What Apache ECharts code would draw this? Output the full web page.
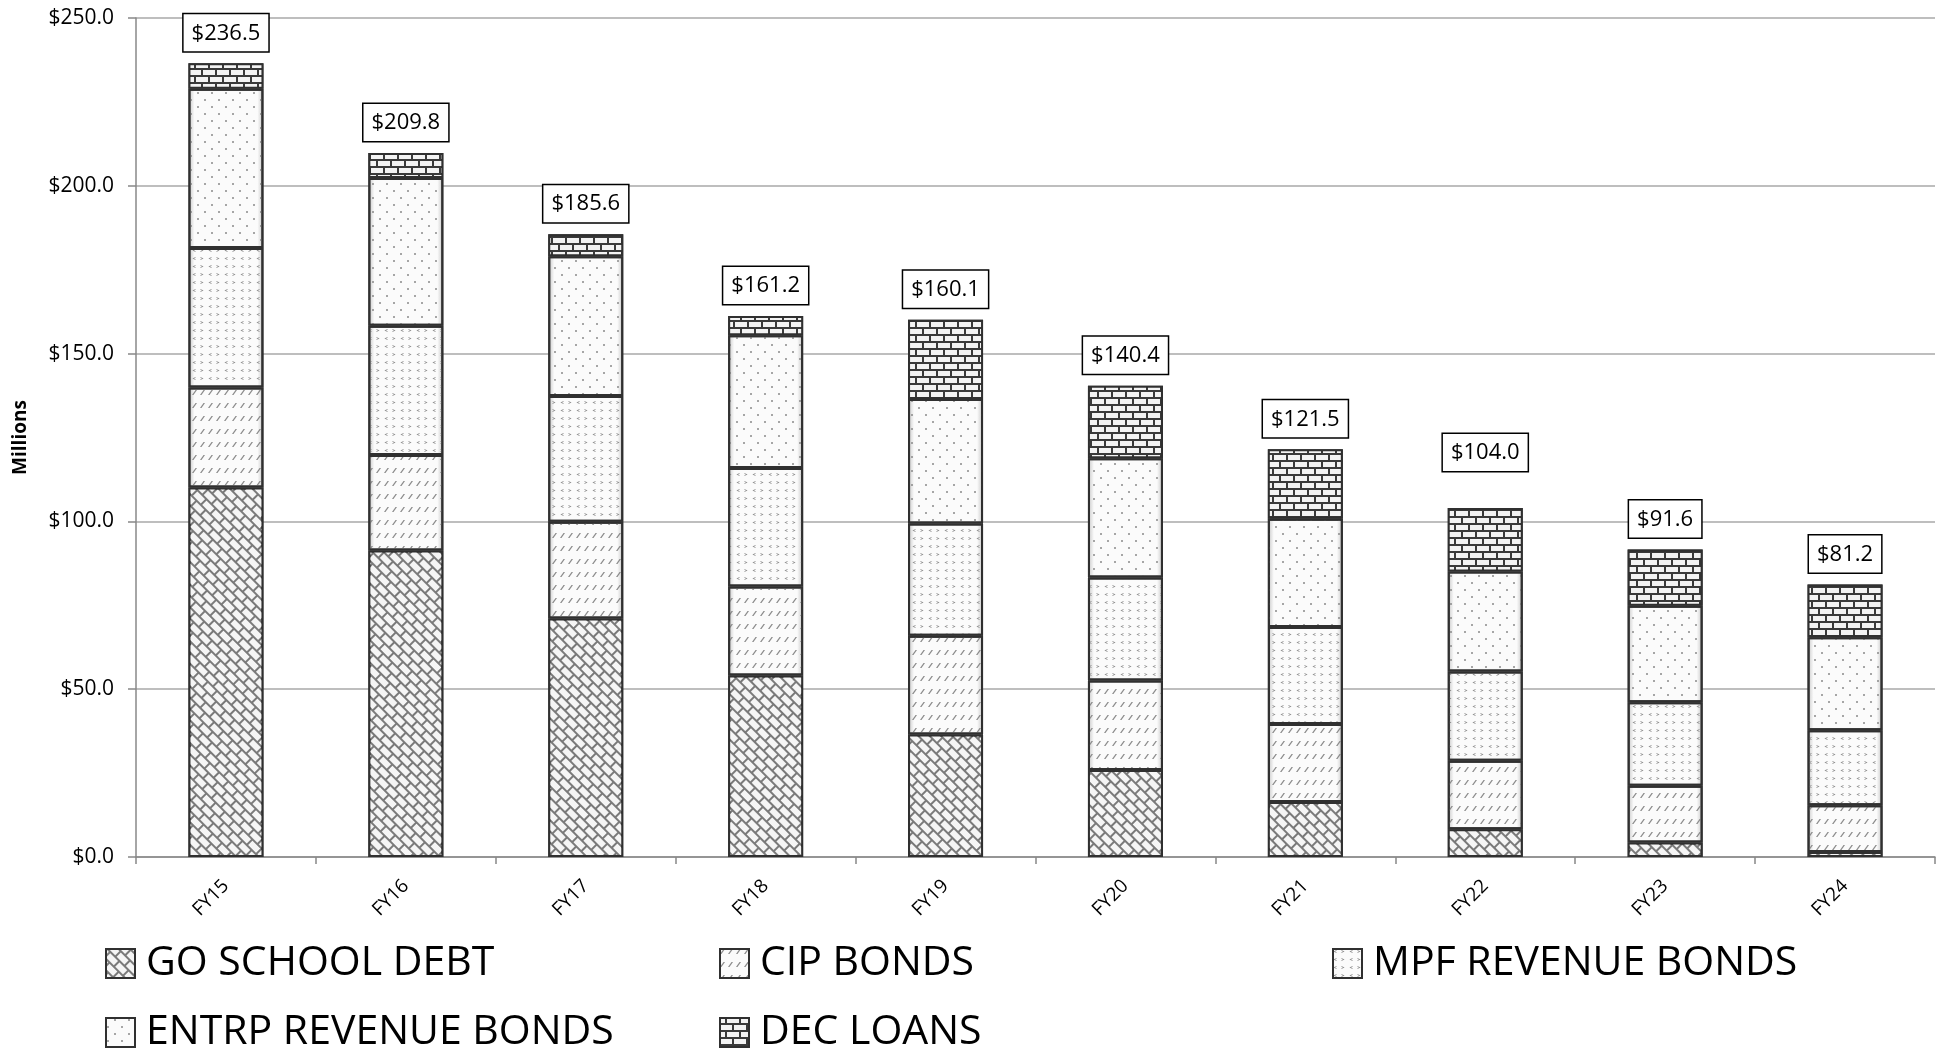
<!DOCTYPE html>
<html>
<head>
<meta charset="utf-8">
<script src="https://cdn.jsdelivr.net/npm/echarts@6/dist/echarts.min.js"></script>
<style>
html,body{margin:0;padding:0;background:#fff;}
#chart{width:1942px;height:1055px;}
</style>
</head>
<body>
<div id="chart"></div>
<script>
// ---- data (millions of dollars) ----
const categories = ['FY15','FY16','FY17','FY18','FY19','FY20','FY21','FY22','FY23','FY24'];
const goSchoolDebt      = [110.1, 91.3, 71.1, 54.1, 36.5, 25.9, 16.4,  8.3,  4.3,  1.5];
const cipBonds          = [ 29.8, 28.5, 28.8, 26.5, 29.4, 26.7, 23.2, 20.4, 16.9, 13.9];
const mpfRevenueBonds   = [ 41.6, 38.5, 37.5, 35.3, 33.5, 30.7, 28.9, 26.6, 24.9, 22.4];
const entrpRevenueBonds = [ 47.4, 44.0, 41.6, 39.6, 37.1, 35.5, 32.3, 29.8, 28.8, 27.7];
const decLoans          = [  7.6,  7.5,  6.6,  5.7, 23.6, 21.6, 20.7, 18.9, 16.7, 15.7];
const totals            = [236.5, 209.8, 185.6, 161.2, 160.1, 140.4, 121.5, 104.0, 91.6, 81.2];
const seriesNames = ['GO SCHOOL DEBT','CIP BONDS','MPF REVENUE BONDS','ENTRP REVENUE BONDS','DEC LOANS'];

const FONT = "'Open Sans', 'Noto Sans', sans-serif";

function bevel(edge) {
  return new echarts.graphic.LinearGradient(0, 0, 1, 0, [
    {offset: 0, color: edge},
    {offset: 0.08, color: '#fbfbfb'},
    {offset: 0.92, color: '#fbfbfb'},
    {offset: 1, color: edge}
  ]);
}

const styles = [
  { color: '#7a7a7a',
    decal: {symbol: 'rect', symbolSize: 1, color: '#f5f5f5',
            dashArrayX: [[11, 2], [4, 2, 7, 0]], dashArrayY: [5.5, 1.5], rotation: Math.PI / 4} },
  { color: bevel('#c4c4c4'),
    decal: {symbol: 'path://M0,10 L3,10 L10,0 L7,0 Z', symbolSize: 1, color: '#8c8c8c',
            dashArrayX: [5, 3], dashArrayY: [5, 8]} },
  { color: bevel('#c4c4c4'),
    decal: {symbol: ['path://M10,0 L0,5 L10,10 L10,7 L5,5 L10,3 Z', 'path://M0,0 L10,5 L0,10 L0,7 L5,5 L0,3 Z'],
            symbolSize: 0.8, color: '#8c8c8c', dashArrayX: [[4, 4]], dashArrayY: [5, 3]} },
  { color: bevel('#c4c4c4'),
    decal: {symbol: 'circle', symbolSize: 0.5, color: '#8a8a8a',
            dashArrayX: [[4, 10], [0, 7, 4, 3]], dashArrayY: [4, 3]} },
  { color: '#3a3a3a',
    decal: {symbol: 'rect', symbolSize: 1, color: '#f3f3f3',
            dashArrayX: [[12, 2], [5, 2, 7, 0]], dashArrayY: [5, 2]} }
];

const valueArrays = [goSchoolDebt, cipBonds, mpfRevenueBonds, entrpRevenueBonds, decLoans];
// label distance override (FY22 label sits higher in the original)
const labelDistanceOverride = {7: 37};

const series = valueArrays.map((arr, si) => {
  const isTop = si === valueArrays.length - 1;
  const s = {
    name: seriesNames[si],
    type: 'bar',
    stack: 'total',
    barWidth: 75,
    itemStyle: {
      color: styles[si].color,
      decal: styles[si].decal,
      borderColor: '#303030',
      borderWidth: 2
    },
    emphasis: {disabled: true},
    data: arr.map((v, i) => {
      const d = {value: v};
      if (isTop && labelDistanceOverride[i] != null) {
        d.label = {distance: labelDistanceOverride[i]};
      }
      return d;
    })
  };
  if (isTop) {
    s.label = {
      show: true,
      position: 'top',
      distance: 12,
      formatter: p => '$' + totals[p.dataIndex].toFixed(1),
      fontFamily: FONT,
      fontSize: 22,
      lineHeight: 26,
      color: '#000',
      backgroundColor: '#fff',
      borderColor: '#000',
      borderWidth: 1.5,
      padding: [6, 8, 5, 8]
    };
  }
  return s;
});

const legendPos = [
  {left: 100, top: 938},
  {left: 714, top: 938},
  {left: 1327, top: 938},
  {left: 100, top: 1007},
  {left: 714, top: 1007}
];
const legends = seriesNames.map((n, i) => ({
  data: [n],
  left: legendPos[i].left,
  top: legendPos[i].top,
  orient: 'horizontal',
  icon: 'rect',
  itemWidth: 29,
  itemHeight: 29,
  selectedMode: false,
  textStyle: {fontFamily: FONT, fontSize: 41, color: '#000', padding: [0, 0, 0, 6]}
}));

const chart = echarts.init(document.getElementById('chart'), null, {renderer: 'canvas'});
chart.setOption({
  animation: false,
  backgroundColor: '#fff',
  textStyle: {fontFamily: FONT},
  grid: {left: 136, right: 7, top: 18, bottom: 198, containLabel: false},
  legend: legends,
  xAxis: {
    type: 'category',
    data: categories,
    axisLine: {lineStyle: {color: '#888', width: 1.5}},
    axisTick: {show: true, length: 7, lineStyle: {color: '#888', width: 1.5}},
    axisLabel: {rotate: 45, fontSize: 19, color: '#000', margin: 26, fontFamily: FONT}
  },
  yAxis: {
    type: 'value',
    min: 0,
    max: 250,
    interval: 50,
    name: 'Millions',
    nameLocation: 'middle',
    nameGap: 106,
    nameTextStyle: {fontFamily: FONT, fontWeight: 'bold', fontSize: 19, color: '#000'},
    axisLine: {show: true, lineStyle: {color: '#888', width: 1.5}},
    axisTick: {show: true, length: 8, lineStyle: {color: '#888', width: 1.5}},
    axisLabel: {fontSize: 21, color: '#000', margin: 22, fontFamily: FONT,
                formatter: v => '$' + v.toFixed(1)},
    splitLine: {show: true, lineStyle: {color: '#a8a8a8', width: 1.5}}
  },
  series: series
});
</script>
</body>
</html>
